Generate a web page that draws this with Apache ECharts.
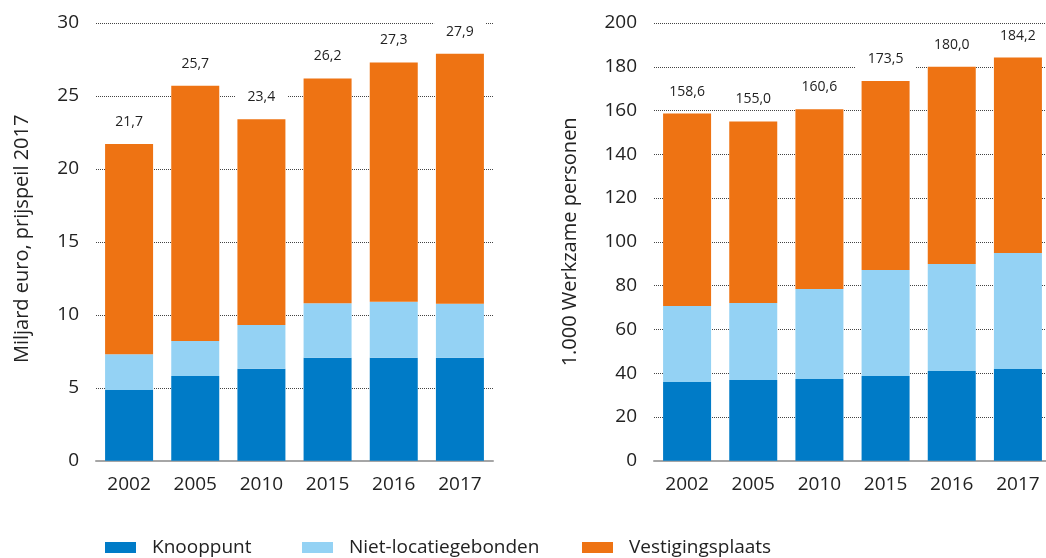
<!DOCTYPE html>
<html>
<head>
<meta charset="utf-8">
<script src="https://cdn.jsdelivr.net/npm/echarts@6/dist/echarts.min.js"></script>
<style>
  html, body { margin: 0; padding: 0; background: #fff; }
  #chart { width: 1046px; height: 558px; }
</style>
</head>
<body>
<div id="chart"></div>
<script>
// jaren
const years = ['2002', '2005', '2010', '2015', '2016', '2017']
const seriesNames = ['Knooppunt', 'Niet-locatiegebonden', 'Vestigingsplaats']

// links: miljard euro, prijspeil 2017
const euroKnooppunt = [4.85, 5.8, 6.3, 7.05, 7.05, 7.05]
const euroNiet = [2.45, 2.4, 3.0, 3.75, 3.85, 3.7]
const euroVestiging = [14.4, 17.5, 14.1, 15.4, 16.4, 17.15]

// rechts: 1.000 werkzame personen
const banenKnooppunt = [36.0, 36.9, 37.3, 38.7, 41.0, 41.9]
const banenNiet = [34.7, 35.2, 41.2, 48.4, 48.9, 53.0]
const banenVestiging = [87.9, 82.9, 82.1, 86.4, 90.1, 89.3]

const colors = ['#007bc7', '#94d2f4', '#ee7313']
const font = 'Open Sans'

function nl(v) {
  return v.toFixed(1).replace('.', ',')
}

// totaal boven de stapel
function totalLabel(lists) {
  return {
    show: true,
    position: 'top',
    distance: 12,
    color: '#222',
    fontSize: 14,
    fontFamily: font,
    backgroundColor: '#fff',
    padding: [3, 12],
    formatter: p => nl(lists.reduce((s, arr) => s + arr[p.dataIndex], 0))
  }
}

function makeSeries(axisIndex, lists) {
  return lists.map((arr, i) => ({
    name: seriesNames[i],
    type: 'bar',
    stack: 'stack' + axisIndex,
    xAxisIndex: axisIndex,
    yAxisIndex: axisIndex,
    barWidth: 48,
    itemStyle: { color: colors[i] },
    label: i === lists.length - 1 ? totalLabel(lists) : { show: false },
    data: arr
  }))
}

function xAxis(gridIndex) {
  return {
    type: 'category',
    gridIndex: gridIndex,
    data: years,
    offset: 5,
    axisLine: { lineStyle: { color: '#a6a6a6', width: 2 } },
    axisTick: { show: false },
    axisLabel: { color: '#222', fontSize: 19, fontFamily: font, margin: 9 }
  }
}

function yAxis(gridIndex, max, interval, name, gap, namePad) {
  return {
    type: 'value',
    gridIndex: gridIndex,
    min: 0,
    max: max,
    interval: interval,
    name: name,
    nameLocation: 'middle',
    nameGap: gap,
    nameTextStyle: { color: '#222', fontSize: 20, fontFamily: font, padding: namePad },
    axisLine: { show: false },
    axisTick: { show: false },
    axisLabel: { color: '#222', fontSize: 19, fontFamily: font, margin: 17 },
    splitLine: { lineStyle: { color: '#444', type: 'dotted', width: 1 } }
  }
}

// legenda: drie losse items op vaste plek
function legendItem(name, left) {
  return {
    data: [name],
    left: left,
    top: 538,
    padding: 0,
    itemWidth: 31,
    itemHeight: 11,
    icon: 'rect',
    textStyle: { color: '#222', fontSize: 19, fontFamily: font, padding: [0, 0, 0, 11] }
  }
}

const myChart = echarts.init(document.getElementById('chart'))

const option = {
  animation: false,
  textStyle: { fontFamily: font },
  legend: [
    legendItem(seriesNames[0], 105),
    legendItem(seriesNames[1], 302),
    legendItem(seriesNames[2], 582)
  ],
  grid: [
    { left: 96, width: 397, top: 23, bottom: 97.3, outerBoundsMode: 'none' },
    { left: 654, width: 397, top: 23, bottom: 97.3, outerBoundsMode: 'none' }
  ],
  xAxis: [xAxis(0), xAxis(1)],
  yAxis: [
    yAxis(0, 30, 5, 'Miljard euro, prijspeil 2017', 64, [0, 0, 0, 6]),
    yAxis(1, 200, 20, '1.000 Werkzame personen', 74, 0)
  ],
  series: [
    ...makeSeries(0, [euroKnooppunt, euroNiet, euroVestiging]),
    ...makeSeries(1, [banenKnooppunt, banenNiet, banenVestiging])
  ]
}

myChart.setOption(option)
</script>
</body>
</html>
